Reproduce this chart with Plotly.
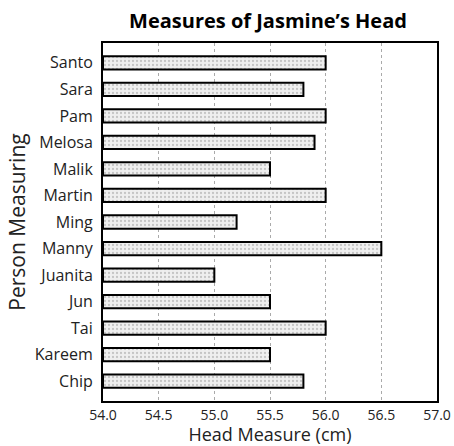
import plotly.graph_objects as go

people = ["Santo", "Sara", "Pam", "Melosa", "Malik", "Martin", "Ming",
          "Manny", "Juanita", "Jun", "Tai", "Kareem", "Chip"]
head_cm = [56.0, 55.8, 56.0, 55.9, 55.5, 56.0, 55.2,
           56.5, 55.0, 55.5, 56.0, 55.5, 55.8]
x_ticks = [54.0, 54.5, 55.0, 55.5, 56.0, 56.5, 57.0]

base = 54.0
fig = go.Figure(go.Bar(
    y=people,
    x=[v - base for v in head_cm],
    base=base,
    orientation="h",
    width=0.5,
    marker=dict(
        color="#efefef",
        line=dict(color="black", width=2),
        pattern=dict(shape=".", fgcolor="#9a9a9a", size=4, solidity=0.25),
    ),
    hovertemplate="%{y}: %{x}<extra></extra>",
))

font_family = "Open Sans, DejaVu Sans, sans-serif"
fig.update_layout(
    width=454, height=446,
    margin=dict(l=103, r=17, t=43, b=45, autoexpand=False),
    paper_bgcolor="white", plot_bgcolor="white",
    showlegend=False,
    title=dict(text="<b>Measures of Jasmine’s Head</b>", x=0.494, xanchor="center",
               xref="paper", y=0.952, yref="container", yanchor="middle",
               font=dict(family=font_family, size=20, color="black")),
    font=dict(family=font_family, size=16, color="#222"),
)
fig.update_xaxes(
    range=[54.0, 57.0], tickvals=x_ticks,
    ticktext=[f"{v:.1f}" for v in x_ticks],
    showgrid=True, gridcolor="#aaa", griddash="dot", gridwidth=1,
    showline=True, linecolor="black", linewidth=2, mirror=True,
    zeroline=False, ticks="", tickfont=dict(size=14, color="#222"),
    automargin=False,
    title=dict(text="Head Measure (cm)", font=dict(size=18, color="#222"), standoff=3),
)
fig.update_yaxes(
    categoryorder="array", categoryarray=people,
    range=[12.75, -0.75],
    showgrid=False, showline=True, linecolor="black", linewidth=2, mirror=True,
    ticks="", ticklabelstandoff=5, tickfont=dict(size=16, color="#222"),
    automargin=False,
    title=dict(text="Person Measuring", font=dict(size=21, color="#222"), standoff=3),
)

fig.write_html("out.html", config={"displayModeBar": False},
               post_script="document.body.style.margin='0';")
